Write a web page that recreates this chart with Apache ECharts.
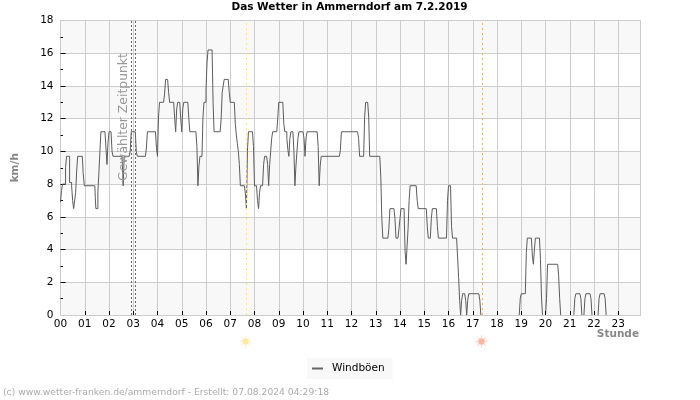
<!DOCTYPE html>
<html><head><meta charset="utf-8">
<style>html,body{margin:0;padding:0;background:#fff}#c{width:700px;height:400px}</style>
<script src="https://cdn.jsdelivr.net/npm/echarts@6/dist/echarts.min.js"></script>
</head><body><div id="c"></div>
<script>
const chartTitle = 'Das Wetter in Ammerndorf am 7.2.2019';
const footer = '(c) www.wetter-franken.de/ammerndorf - Erstellt: 07.08.2024 04:29:18';
const seriesName = 'Windböen';
const hourTicks = [0,60,120,180,240,300,360,420,480,540,600,660,720,780,840,900,960,1020,1080,1140,1200,1260,1320,1380];
const valueTicks = [2,4,6,8,10,12,14,16];
const selectedTimes = [176,185];
const sunrise = 460;
const sunset = 1042.5;
// [minute of day, km/h]
const gusts = [
[0,6.9],[2.5,7.6],[5,8.0],[12.5,9.0],[15,9.7],[22.5,8.1],[27.5,7.9],[30,7],[32.5,6.5],[36,6.5],[37.5,7.5],[40,8.8],[42.5,9.7],[54,9.7],[56,8.7],[59,7.9],[85,7.9],[86,7.2],[87.5,6.5],[90,6.5],[92.5,7.5],[95,8.7],[97.5,10],[100,11.2],[110,11.2],[112.5,10.2],[115,9.2],[117.5,10.5],[120,11.2],[125,11.2],[127.5,10],[130,9.7],[152.5,9.7],[155,7.9],[157.5,9.7],[170,9.7],[172.5,10],[175,11.2],[185,11.2],[187.5,10],[190,9.7],[210,9.7],[212.5,10.2],[215,11.2],[235,11.2],[237.5,10.2],[240,9.7],[242.5,12.1],[245,13],[255,13],[257.5,13.5],[260,14.4],[265,14.4],[267.5,13.6],[270,13],[280,13],[282.5,12],[285,11.2],[287.5,12.6],[290,13],[295,13],[297.5,12],[300,11.2],[302.5,12.6],[305,13],[315,13],[317.5,12],[320,11.2],[335,11.2],[337.5,10.3],[340,7.9],[342.5,9.1],[345,9.7],[350,9.7],[352.5,12.1],[355,13],[360,13.8],[362.5,15.4],[365,16.2],[375,16.2],[377.5,13],[380,11.2],[395,11.2],[397.5,12],[400,13.6],[402.5,14],[405,14.4],[415,14.4],[417.5,13.6],[420,13],[430,13],[432.5,11.7],[435,11],[437.5,10.5],[440,10],[442.5,9.2],[445,7.9],[455,7.9],[457.5,7.4],[460,6.5],[462.5,10],[465,11.2],[475,11.2],[477.5,10.3],[480,7.9],[485,7.9],[487.5,7],[490,6.5],[492.5,7.5],[495,7.9],[500,7.9],[502.5,9.2],[505,9.7],[510,9.7],[512.5,9.2],[515,7.9],[517.5,9.2],[520,10],[522.5,10.8],[525,11.2],[535,11.2],[537.5,12],[540,13],[550,13],[552.5,11.7],[555,11.2],[557.5,11.2],[560,10.8],[562.5,10.1],[565,9.7],[567.5,10.8],[570,11.2],[575,11.2],[577.5,10],[580,7.9],[582.5,9.1],[585,10],[587.5,10.8],[590,11.2],[600,11.2],[602.5,10.8],[605,9.7],[607.5,10.8],[610,11.2],[635,11.2],[637.5,10.3],[640,7.9],[642.5,9.1],[645,9.7],[690,9.7],[692.5,10.1],[695,11.2],[735,11.2],[737.5,10.8],[740,9.7],[750,9.7],[752.5,12.1],[755,13],[760,13],[762.5,12.1],[765,9.7],[790,9.7],[792.5,8.4],[795,5.9],[797.5,4.7],[810,4.7],[812.5,5.3],[815,6.5],[825,6.5],[827.5,5.9],[830,4.7],[835,4.7],[837.5,5.3],[840,5.9],[842.5,6.5],[850,6.5],[852.5,3.9],[855,3.1],[857.5,4.2],[860,5.3],[862.5,7],[865,7.9],[880,7.9],[882.5,7],[885,6.5],[905,6.5],[907.5,5.4],[910,4.7],[915,4.7],[917.5,5.9],[920,6.5],[930,6.5],[932.5,5.4],[935,4.7],[955,4.7],[957.5,7],[960,7.9],[965,7.9],[967.5,5.4],[970,4.7],[980,4.7],[982.5,3.5],[985,2.3],[987.5,0.9],[990,0],[992.5,0.9],[995,1.3],[1000,1.3],[1002.5,0.9],[1005,0],[1007.5,0.9],[1010,1.3],[1035,1.3],[1037.5,0.9],[1040,0],[1040,null],
[1135,0],[1137.5,1],[1140,1.3],[1150,1.3],[1152.5,3.8],[1155,4.7],[1165,4.7],[1167.5,3.6],[1170,3.1],[1172.5,4],[1175,4.7],[1185,4.7],[1187.5,3.4],[1190,1.1],[1192.5,0],[1192.5,null],
[1200,0],[1202.5,1],[1205,3.1],[1230,3.1],[1232.5,2.4],[1235,1],[1237.5,0],[1237.5,null],
[1270,0],[1272.5,1],[1275,1.3],[1285,1.3],[1287.5,1],[1290,0],[1290,null],
[1295,0],[1297.5,1],[1300,1.3],[1310,1.3],[1312.5,1],[1315,0],[1315,null],
[1330,0],[1332.5,1],[1335,1.3],[1345,1.3],[1347.5,1],[1350,0]
];
const FONT = '"DejaVu Sans"';
function pad(h){return (h<10?'0':'')+h;}
function sunItem(color){
  return function(params, api){
    const p = api.coord([api.value(0),0]);
    const cx = Math.round(p[0])-0.5, cy = p[1]+26.5;
    const kids = [{type:'circle',shape:{cx:cx,cy:cy,r:3.2},style:{fill:color,stroke:null}}];
    for(let i=0;i<8;i++){
      const a=i*Math.PI/4;
      kids.push({type:'line',shape:{x1:cx+Math.cos(a)*3.8,y1:cy+Math.sin(a)*3.8,x2:cx+Math.cos(a)*6,y2:cy+Math.sin(a)*6},style:{stroke:color,lineWidth:1,opacity:.75}});
    }
    return {type:'group',children:kids};
  };
}
const chart = echarts.init(document.getElementById('c'));
chart.setOption({
  animation:false,
  backgroundColor:'#fff',
  textStyle:{fontFamily:FONT},
  title:[
    {text:chartTitle,left:349.5,textAlign:'center',top:2,padding:0,textStyle:{fontFamily:FONT,fontSize:10.5,fontWeight:'bold',color:'#000'}},
    {text:footer,left:3,top:388,padding:0,textStyle:{fontFamily:FONT,fontSize:9.2,fontWeight:'normal',color:'#aaa'}}
  ],
  legend:{data:[seriesName],left:307,top:358,padding:[5,8,5,5],backgroundColor:'#f8f8f8',icon:'rect',itemWidth:11,itemHeight:2,
    textStyle:{fontFamily:FONT,fontSize:10.5,color:'#000',padding:[0,0,0,4]}},
  grid:{left:60.5,top:20.5,width:580,height:294.5,outerBoundsMode:'none',show:true,borderColor:'#ccc',borderWidth:1,backgroundColor:'transparent'},
  xAxis:[
   {type:'value',min:0,max:1435,interval:60,z:1,
    axisLine:{show:true,onZero:false,lineStyle:{color:'#ccc'}},
    axisTick:{show:false},
    axisLabel:{customValues:hourTicks,margin:4,fontFamily:FONT,fontSize:10.5,color:'#000',formatter:v=>pad(Math.round(v/60))},
    splitLine:{show:true,lineStyle:{color:'#ccc'}}},
   {type:'value',position:'bottom',min:0,max:1435,z:5,
    axisLine:{show:false,onZero:false},
    axisLabel:{show:false},
    splitLine:{show:false},
    axisTick:{show:true,inside:true,length:4,customValues:hourTicks.slice(1),lineStyle:{color:'#000',width:1}}}
  ],
  yAxis:[
   {type:'value',min:0,max:18,interval:2,name:'km/h',nameLocation:'middle',nameGap:40,
    nameTextStyle:{fontFamily:FONT,fontSize:10.5,fontWeight:'bold',color:'#888'},
    axisLine:{show:true,lineStyle:{color:'#ccc'}},
    axisTick:{show:false},
    axisLabel:{margin:7,fontFamily:FONT,fontSize:10.5,color:'#000'},
    splitLine:{show:true,lineStyle:{color:'#ccc'}},
    splitArea:{show:true,areaStyle:{color:['#f8f8f8','#ffffff']}}},
   {type:'value',position:'left',min:0,max:18,interval:2,z:1,
    axisLine:{show:false},
    axisLabel:{show:false},
    splitLine:{show:false},splitArea:{show:false},
    axisTick:{show:true,inside:true,length:5,customValues:valueTicks,lineStyle:{color:'#000'}},
    minorTick:{show:true,splitNumber:2,length:2.5,lineStyle:{color:'#000'}}}
  ],
  graphic:[
    {type:'text',x:124,y:117,rotation:Math.PI/2,z:10,style:{text:'Gewählter Zeitpunkt',fill:'#999',font:'12.4px "DejaVu Sans"',align:'center',verticalAlign:'middle'}},
    {type:'text',x:639,y:334,z:10,style:{text:'Stunde',fill:'#888',font:'bold 10.5px "DejaVu Sans"',align:'right',verticalAlign:'middle'}}
  ],
  series:[
    {name:seriesName,type:'line',step:'end',data:gusts,showSymbol:false,connectNulls:false,lineStyle:{color:'#5c5c5c',width:1},itemStyle:{color:'#666'},z:3,
     markLine:{silent:true,symbol:'none',animation:false,label:{show:false},
       data:[
         {xAxis:selectedTimes[0],lineStyle:{color:'#666',type:[2,2],width:1}},
         {xAxis:selectedTimes[1],lineStyle:{color:'#666',type:[2,2],width:1}},
         {xAxis:sunrise,lineStyle:{color:'#ffee44',type:[2,3],width:1}},
         {xAxis:sunset,lineStyle:{color:'#ffb030',type:[2,3],width:1}}
       ]}},
    {type:'custom',name:'sunrise',coordinateSystem:'cartesian2d',clip:false,silent:true,data:[[sunrise,0]],renderItem:sunItem('#ffe9a0'),encode:{x:0,y:1},z:4},
    {type:'custom',name:'sunset',coordinateSystem:'cartesian2d',clip:false,silent:true,data:[[sunset,0]],renderItem:sunItem('#ffb3a0'),encode:{x:0,y:1},z:4}
  ]
});
</script></body></html>
